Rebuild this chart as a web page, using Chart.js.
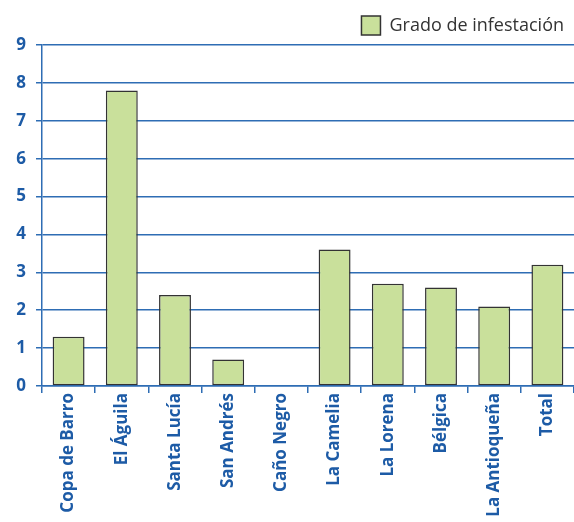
<!DOCTYPE html>
<html>
<head>
<meta charset="utf-8">
<script src="https://cdn.jsdelivr.net/npm/chart.js@4/dist/chart.umd.min.js"></script>
<style>
  html, body { margin: 0; padding: 0; background: #fff; }
  #wrap { width: 574px; height: 522px; }
</style>
</head>
<body>
<div id="wrap"><canvas id="chart" width="574" height="522"></canvas></div>
<script>
// data
const categories = [
  'Copa de Barro', 'El Águila', 'Santa Lucía', 'San Andrés', 'Caño Negro',
  'La Camelia', 'La Lorena', 'Bélgica', 'La Antioqueña', 'Total'
];
const infestation = [1.3, 7.8, 2.4, 0.7, 0, 3.6, 2.7, 2.6, 2.1, 3.2];
const seriesLabel = 'Grado de infestación';
const yTicks = [0, 1, 2, 3, 4, 5, 6, 7, 8, 9];

const BLUE = '#2e6db4';
const LABEL_BLUE = '#1d5ba6';
const FONT = "'Open Sans', 'Noto Sans', sans-serif";

const ctx = document.getElementById('chart').getContext('2d');

new Chart(ctx, {
  type: 'bar',
  data: {
    labels: categories,
    datasets: [{
      label: seriesLabel,
      data: infestation,
      backgroundColor: '#c9e09b',
      borderColor: '#333333',
      borderWidth: 1.5,
      borderSkipped: false,
      barPercentage: 0.6,
      categoryPercentage: 1,
    }],
  },
  options: {
    responsive: false,
    animation: false,
    layout: {
      padding: { left: 0, right: 0, top: 6, bottom: 0 },
    },
    scales: {
      x: {
        offset: true,
        grid: {
          offset: true,
          drawOnChartArea: false,
          drawTicks: true,
          tickLength: 7,
          color: BLUE,
          lineWidth: 1.5,
        },
        border: { display: true, color: BLUE, width: 1.5 },
        ticks: {
          autoSkip: false,
          minRotation: 90,
          maxRotation: 90,
          padding: 0,
          color: LABEL_BLUE,
          font: { family: FONT, size: 17, weight: 'bold' },
        },
        afterFit: (scale) => { scale.height = 136; },
      },
      y: {
        min: 0,
        max: 9,
        afterBuildTicks: (scale) => {
          scale.ticks = yTicks.map((v) => ({ value: v }));
        },
        grid: {
          color: BLUE,
          lineWidth: 1.5,
          tickLength: 6,
        },
        border: { display: true, color: BLUE, width: 1.5 },
        ticks: {
          padding: 10,
          color: LABEL_BLUE,
          font: { family: FONT, size: 17, weight: 'bold' },
        },
        afterFit: (scale) => { scale.width = 42; },
      },
    },
    plugins: {
      legend: {
        display: true,
        position: 'top',
        align: 'end',
        labels: {
          boxWidth: 19,
          boxHeight: 19,
          color: '#333333',
          padding: 10,
          font: { family: FONT, size: 18 },
        },
      },
      tooltip: { enabled: false },
    },
  },
});
</script>
</body>
</html>
